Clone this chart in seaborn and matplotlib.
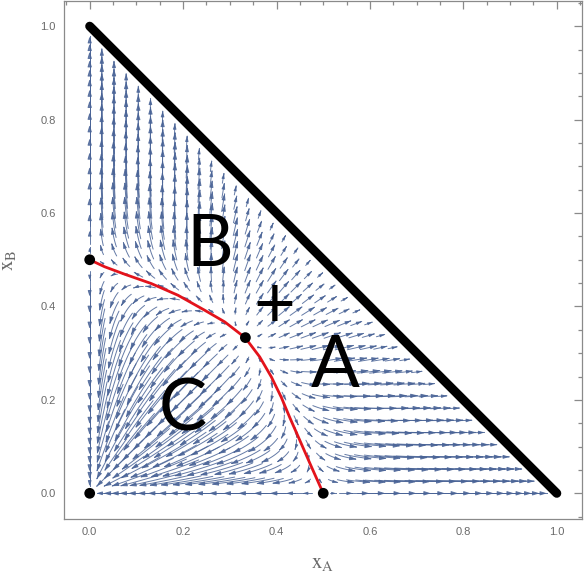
import numpy as np
import matplotlib
matplotlib.use("Agg")
import matplotlib.pyplot as plt
from matplotlib.patches import FancyArrowPatch
from matplotlib.path import Path
from matplotlib.ticker import MultipleLocator
import pandas as pd
import seaborn as sns

# red boundary of the C basin
sep_xa = [0.0, 0.032, 0.075, 0.132, 0.189, 0.246, 0.289, 0.333, 0.364, 0.389, 0.410, 0.428, 0.450, 0.475, 0.5]
sep_xb = [0.5, 0.485, 0.469, 0.449, 0.424, 0.392, 0.367, 0.333, 0.292, 0.249, 0.206, 0.163, 0.113, 0.056, 0.0]

# marked fixed points
fix_xa = [0.0, 0.5, 1/3, 0.0]
fix_xb = [0.0, 0.0, 1/3, 0.5]

# region labels
lab_text = ["A", "B", "C", "+"]
lab_xa = [0.525, 0.258, 0.199, 0.396]
lab_xb = [0.272, 0.531, 0.178, 0.400]


def field(xa, xb):
    # A and B each play a coordination game against C; x_C = 0 is a line of rest points
    xc = 1 - xa - xb
    return xa * xc * (xa - xc), xb * xc * (xb - xc)


def flow(xa, xb, t, n):
    dt = t / n
    out = [(xa, xb)]
    for _ in range(n):
        k1 = field(xa, xb)
        k2 = field(xa + dt / 2 * k1[0], xb + dt / 2 * k1[1])
        k3 = field(xa + dt / 2 * k2[0], xb + dt / 2 * k2[1])
        k4 = field(xa + dt * k3[0], xb + dt * k3[1])
        xa = xa + dt / 6 * (k1[0] + 2 * k2[0] + 2 * k3[0] + k4[0])
        xb = xb + dt / 6 * (k1[1] + 2 * k2[1] + 2 * k3[1] + k4[1])
        out.append((xa, xb))
    return out


sns.set_style("white")
plt.rcParams["font.family"] = ["Liberation Sans", "DejaVu Sans"]
plt.rcParams["mathtext.fontset"] = "stix"

fig = plt.figure(figsize=(5.84, 5.83), dpi=100)
ax = fig.add_axes([0.1096, 0.1098, 0.887, 0.8885])

# stream segments
step = 0.026
g = np.arange(0, 1.0001, step)
sx, sy = np.meshgrid(g, g)
keep = sx + sy < 0.985
sx, sy = sx[keep], sy[keep]
T = 1.3
back = flow(sx, sy, -T / 2, 18)[::-1]
fwd = flow(sx, sy, T / 2, 18)[1:]
pts = back + fwd
px = np.array([p[0] for p in pts])
py = np.array([p[1] for p in pts])
seg_len = np.hypot(np.diff(px, axis=0), np.diff(py, axis=0)).sum(axis=0)
col = "#4a6497"
for i in range(px.shape[1]):
    L = seg_len[i]
    if L < 0.006:
        continue
    verts = np.column_stack([px[:, i], py[:, i]])
    arr = FancyArrowPatch(path=Path(verts), arrowstyle="-|>,head_length=0.5,head_width=0.15",
                          mutation_scale=8 * min(1.0, L / 0.05) ** 0.5,
                          color=col, lw=0.7, alpha=0.85, zorder=1)
    ax.add_patch(arr)

ax.plot([0, 1], [1, 0], color="black", lw=6.5, solid_capstyle="round", zorder=3)

sep_df = pd.DataFrame({"xa": sep_xa, "xb": sep_xb})
sns.lineplot(data=sep_df, x="xa", y="xb", sort=False, color="#e3131b", lw=2.0, ax=ax, zorder=4)

fix_df = pd.DataFrame({"xa": fix_xa, "xb": fix_xb})
sns.scatterplot(data=fix_df, x="xa", y="xb", color="black", s=60, edgecolor="none", ax=ax, zorder=5)

for t, xa, xb in zip(lab_text, lab_xa, lab_xb):
    ax.text(xa, xb, t, fontsize=52, fontfamily="Lato", ha="center", va="center", color="black", zorder=6)

ax.set_xlim(-0.055, 1.054)
ax.set_ylim(-0.055, 1.054)
ax.xaxis.set_major_locator(MultipleLocator(0.2))
ax.yaxis.set_major_locator(MultipleLocator(0.2))
ax.xaxis.set_minor_locator(MultipleLocator(0.05))
ax.yaxis.set_minor_locator(MultipleLocator(0.05))
ax.xaxis.set_major_formatter(matplotlib.ticker.FormatStrFormatter("%.1f"))
ax.yaxis.set_major_formatter(matplotlib.ticker.FormatStrFormatter("%.1f"))
ax.tick_params(which="both", direction="in", top=True, right=True, color="#8a8a8a",
               labelcolor="#6a6a6a", labelsize=8, width=0.9)
ax.tick_params(which="major", length=5.5, pad=6)
ax.tick_params(which="minor", length=3)
for s in ax.spines.values():
    s.set_color("#8a8a8a")
    s.set_linewidth(0.9)
ax.set_xlabel(r"$\mathrm{x_A}$", fontsize=15, color="#6a6a6a", labelpad=12)
ax.set_ylabel(r"$\mathrm{x_B}$", fontsize=15, color="#6a6a6a", labelpad=16)

fig.savefig("out.png", dpi=100)
